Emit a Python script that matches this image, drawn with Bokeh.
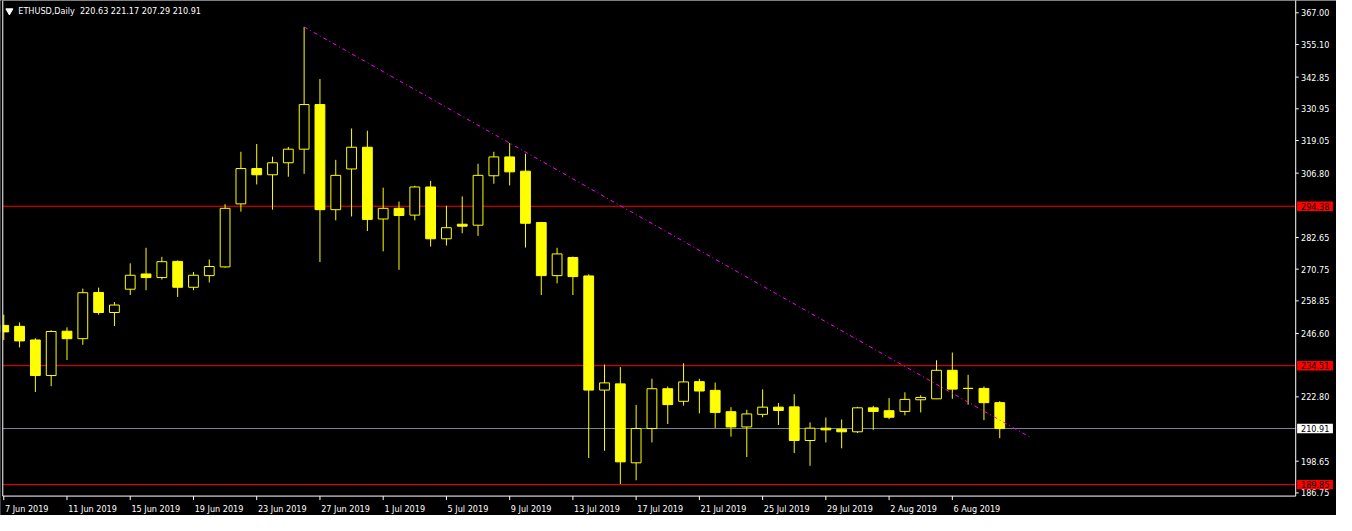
from bokeh.plotting import figure
from bokeh.models import Range1d
from bokeh.core.properties import value
from bokeh.embed import file_html
from bokeh.resources import INLINE
from bokeh.models import ColumnDataSource

# ---------------- data ----------------
symbol_text = "ETHUSD,Daily\u00a0 220.63 221.17 207.29 210.91"

opens = [249.64, 249.27, 244.17, 230.81, 247.45, 244.65, 262.00, 254.48, 263.22, 268.94,
         267.59, 273.67, 263.95, 268.32, 271.60, 295.26, 308.52, 306.19, 310.70, 315.80,
         332.55, 293.08, 308.37, 316.53, 289.58, 293.59, 291.04, 301.60, 282.15, 287.62,
         287.25, 305.82, 312.89, 307.54, 288.24, 268.32, 275.13, 268.21, 225.35, 227.68,
         198.04, 210.93, 225.86, 221.13, 228.52, 225.24, 217.23, 211.51, 216.24, 218.94,
         219.05, 206.42, 211.04, 210.67, 209.69, 218.69, 217.60, 217.34, 221.71, 222.07,
         232.78, 226.00, 225.97, 220.63]
highs = [253.64, 250.73, 244.80, 247.81, 248.91, 263.47, 263.80, 258.38, 272.94, 278.77,
         275.38, 274.04, 269.67, 274.40, 295.15, 314.82, 317.73, 313.00, 316.64, 361.68,
         342.13, 311.80, 323.56, 322.72, 301.35, 296.14, 302.06, 303.90, 294.54, 298.07,
         310.34, 314.82, 318.10, 314.09, 288.50, 278.77, 275.49, 268.83, 234.96, 233.98,
         219.78, 229.61, 226.70, 235.43, 229.61, 228.16, 218.94, 217.96, 225.60, 220.50,
         223.78, 213.22, 215.04, 214.31, 219.05, 219.42, 222.33, 224.51, 223.42, 236.53,
         239.44, 231.07, 226.70, 221.17]
lows = [244.17, 241.37, 224.62, 226.80, 236.64, 242.35, 253.64, 249.38, 261.03, 262.86,
        266.86, 260.31, 262.86, 265.77, 271.30, 292.35, 302.55, 293.08, 305.46, 306.55,
        273.42, 289.07, 290.53, 285.07, 277.42, 270.50, 289.07, 279.24, 279.61, 284.23,
        283.25, 302.82, 302.18, 278.88, 261.03, 265.41, 261.03, 199.86, 202.55, 190.10,
        191.48, 205.69, 212.61, 219.52, 216.61, 211.15, 207.87, 200.23, 215.15, 212.24,
        201.68, 196.95, 205.69, 203.50, 209.22, 210.42, 214.42, 215.88, 216.97, 221.96,
        222.07, 219.89, 214.05, 207.29]
closes = [247.20, 243.81, 230.81, 247.34, 244.65, 261.91, 254.48, 257.28, 268.46, 267.59,
          273.56, 263.95, 268.46, 271.74, 293.59, 308.52, 306.19, 310.70, 315.80, 332.55,
          293.08, 305.97, 316.53, 289.44, 293.59, 290.89, 301.60, 282.15, 286.31, 286.89,
          305.97, 312.89, 307.28, 287.98, 268.32, 276.47, 267.96, 225.35, 228.05, 198.40,
          210.93, 225.86, 219.89, 228.41, 225.00, 216.97, 211.51, 216.39, 218.94, 217.70,
          206.42, 211.04, 210.42, 209.69, 218.69, 217.34, 215.15, 221.85, 222.58, 232.78,
          225.71, 225.95, 220.62, 210.91]

date_ticks = [0, 4, 8, 12, 16, 20, 24, 28, 32, 36, 40, 44, 48, 52, 56, 60]
date_labels = ["7 Jun 2019", "11 Jun 2019", "15 Jun 2019", "19 Jun 2019", "23 Jun 2019",
               "27 Jun 2019", "1 Jul 2019", "5 Jul 2019", "9 Jul 2019", "13 Jul 2019",
               "17 Jul 2019", "21 Jul 2019", "25 Jul 2019", "29 Jul 2019", "2 Aug 2019",
               "6 Aug 2019"]
price_ticks = [367.00, 355.10, 342.85, 330.95, 319.05, 306.80, 282.65, 270.75, 258.85,
               246.60, 222.80, 198.65, 186.75]

red_levels = [294.38, 234.51, 189.85]
bid_level = 210.91

trend_x = [19.0, 64.92]
trend_y = [361.68, 207.65]

# ---------------- layout constants ----------------
FONT = "DejaVu Sans Condensed"
YEL = "#ffff00"
X0, X1 = -0.206, 84.30          # x range (whole canvas)
Y0, Y1 = 178.26, 371.62         # y range (whole canvas)
XL = -0.0625                    # left border
XA = 81.72                      # right price-axis line
YB = 185.55                     # bottom time-axis line
PXU = 15.81                     # pixels per x unit
PYU = 2.6634                    # pixels per price unit

p = figure(width=1336, height=515, output_backend="svg", toolbar_location=None,
           x_range=Range1d(X0, X1), y_range=Range1d(Y0, Y1),
           x_axis_location=None, y_axis_location=None,
           background_fill_color="black", border_fill_color="black",
           min_border=0)
p.grid.visible = False
p.outline_line_color = None

# horizontal levels
n = len(red_levels)
p.segment(x0=[XL] * n, y0=red_levels, x1=[XA] * n, y1=red_levels,
          line_color="#ff0000", line_width=1)
p.segment(x0=[XL], y0=[bid_level], x1=[XA], y1=[bid_level], line_color="#778899", line_width=1)

# candles
xs = list(range(len(opens)))
bull = dict(x=[], top=[], bottom=[])
bear = dict(x=[], top=[], bottom=[])
for i, (o, c) in enumerate(zip(opens, closes)):
    d = bull if c >= o else bear
    d["x"].append(i)
    d["top"].append(max(o, c))
    d["bottom"].append(min(o, c))

p.segment(x0=xs, y0=lows, x1=xs, y1=highs, line_color=YEL, line_width=1)
p.vbar(x="x", top="top", bottom="bottom", width=0.62, source=ColumnDataSource(bull),
       fill_color="black", line_color=YEL, line_width=1)
p.vbar(x="x", top="top", bottom="bottom", width=0.62, source=ColumnDataSource(bear),
       fill_color=YEL, line_color=YEL, line_width=1)

# mask left of border
p.quad(left=[X0 - 1], right=[XL], bottom=[Y0 - 5], top=[Y1 + 5], fill_color="black",
       line_color=None)

# trendline
p.line(trend_x, trend_y, line_color="#ff00ff", line_width=1, line_dash="4 3 1 3")

# frame borders: left, right price axis, bottom time axis
p.segment(x0=[XL, XA, XL], y0=[YB, YB, YB], x1=[XL, XA, XA], y1=[Y1 + 5, Y1 + 5, YB],
          line_color="white", line_width=1)

# right price axis: ticks and labels
tick_len = 3 / PXU
lab_off = 5.3 / PXU
m = len(price_ticks)
p.segment(x0=[XA] * m, y0=price_ticks, x1=[XA + tick_len] * m, y1=price_ticks,
          line_color="white", line_width=1)
p.text(x=[XA + lab_off] * m, y=price_ticks,
       text=[f"{t:.2f}" for t in price_ticks], text_color="white",
       text_font=value(FONT), text_font_size=value("9px"),
       text_align="left", text_baseline="middle")

# bottom time axis: ticks and labels
k = len(date_ticks)
p.segment(x0=date_ticks, y0=[YB] * k, x1=date_ticks, y1=[YB - 4 / PYU] * k,
          line_color="white", line_width=1)
p.text(x=[t + 1.2 / PXU for t in date_ticks], y=[YB - 12.8 / PYU] * k, text=date_labels,
       text_color="white", text_font=value(FONT), text_font_size=value("9px"),
       text_align="left", text_baseline="middle")

# price boxes on the axis
box_l = XA + 1.4 / PXU
box_r = XA + 37.2 / PXU
half_h = 1.78
box_levels = red_levels + [bid_level]
box_colors = ["#ff0000"] * n + ["#ffffff"]
p.quad(left=[box_l] * len(box_levels), right=[box_r] * len(box_levels),
       bottom=[v - half_h for v in box_levels], top=[v + half_h for v in box_levels],
       fill_color=box_colors, line_color=None)
p.text(x=[XA + lab_off] * len(box_levels), y=box_levels,
       text=[f"{v:.2f}" for v in box_levels], text_color="black",
       text_font=value(FONT), text_font_size=value("9px"),
       text_align="left", text_baseline="middle")

# header
p.scatter(x=[0.357], y=[367.73], marker="inverted_triangle", size=7, color="white")
p.text(x=[0.92], y=[367.6], text=[symbol_text], text_color="white",
       text_font=value(FONT), text_font_size=value("9px"),
       text_align="left", text_baseline="middle")

open("out.html", "w").write(file_html(p, INLINE))
